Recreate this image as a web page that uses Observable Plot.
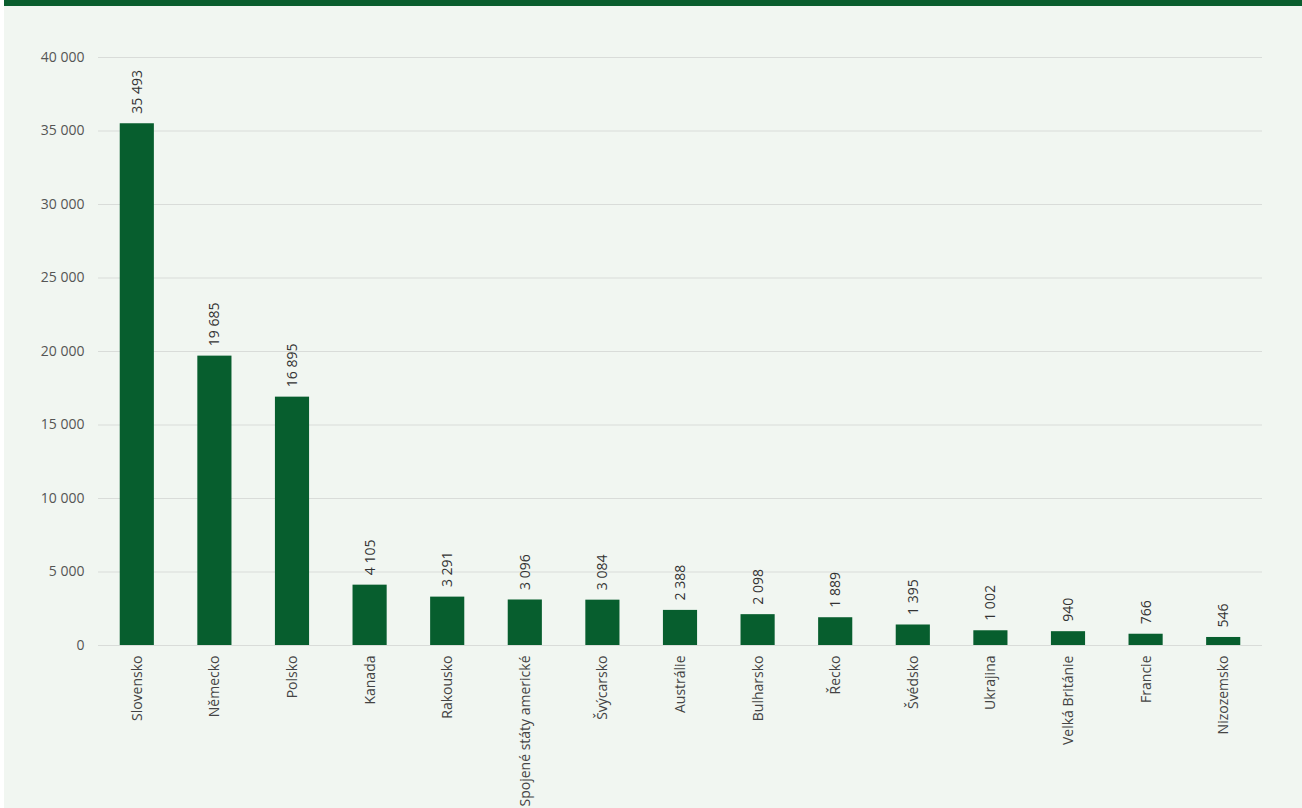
<!DOCTYPE html>
<html>
<head>
<meta charset="utf-8">
<script src="https://cdn.jsdelivr.net/npm/d3@7"></script>
<script src="https://cdn.jsdelivr.net/npm/@observablehq/plot@0.6"></script>
<style>
  html, body { margin: 0; padding: 0; background: #ffffff; }
  #wrap { margin-left: 4px; width: 1298px; height: 808px; background: #f1f6f1; overflow: hidden; }
  #topbar { height: 6px; background: #0a5e2e; }
  svg { display: block; }
</style>
</head>
<body>
<div id="wrap"><div id="topbar"></div><div id="chart"></div></div>
<script>
const countries = ["Slovensko","Německo","Polsko","Kanada","Rakousko","Spojené státy americké","Švýcarsko","Austrálie","Bulharsko","Řecko","Švédsko","Ukrajina","Velká Británie","Francie","Nizozemsko"];
const values = [35493,19685,16895,4105,3291,3096,3084,2388,2098,1889,1395,1002,940,766,546];
const yTicks = [0,5000,10000,15000,20000,25000,30000,35000,40000];

const locale = d3.formatLocale({decimal: ",", thousands: "\u00a0", grouping: [3], currency: ["", " Kč"]});
const fmt = locale.format(",d");

const data = countries.map((c, i) => ({country: c, value: values[i]}));

const chart = Plot.plot({
  width: 1298,
  height: 802,
  marginTop: 51,
  marginBottom: 163,
  marginLeft: 94,
  marginRight: 40,
  style: {background: "transparent", fontFamily: "'Open Sans', sans-serif", fontSize: "14px", color: "#444"},
  x: {domain: countries, paddingInner: 0.56, paddingOuter: 0.28, align: 0.5, round: false, label: null},
  y: {domain: [0, 40000], label: null},
  marks: [
    Plot.gridY(yTicks, {stroke: "#d9dcd9", strokeOpacity: 1, strokeWidth: 1}),
    Plot.axisY(yTicks, {tickSize: 0, tickPadding: 14, tickFormat: fmt, label: null, fill: "#555", fontSize: 14}),
    Plot.axisX({tickSize: 0, tickPadding: 10, tickRotate: -90, label: null, fill: "#444", fontSize: 14}),
    Plot.barY(data, {x: "country", y: "value", fill: "#075e2e"}),
    Plot.text(data, {x: "country", y: "value", text: d => fmt(d.value), rotate: -90, textAnchor: "start", dy: -10, fill: "#333", fontSize: 14})
  ]
});
document.getElementById("chart").appendChild(chart);
</script>
</body>
</html>
